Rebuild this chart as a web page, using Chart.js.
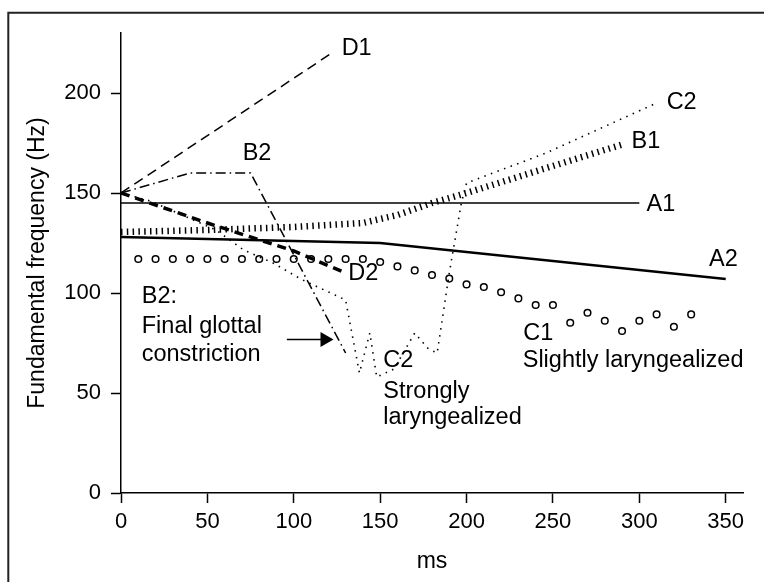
<!DOCTYPE html>
<html>
<head>
<meta charset="utf-8">
<script src="https://cdn.jsdelivr.net/npm/chart.js@4.4.1/dist/chart.umd.min.js"></script>
<style>
html,body{margin:0;padding:0;background:#fff;}
#wrap{width:764px;height:582px;}
</style>
</head>
<body>
<div id="wrap"><canvas id="chart" width="764" height="582"></canvas></div>
<script>
// F0 contours (ms -> Hz)
const a1Ms = [0, 300];
const a1Hz = [145, 145];
const a2Ms = [0, 150, 350];
const a2Hz = [128, 125, 107];
const b1Ms = [0, 50, 100, 140, 160, 180, 200, 250, 291];
const b1Hz = [130.5, 131.5, 133, 135, 139, 145, 150, 163.5, 174.5];
const b2Ms = [0, 40, 75, 130];
const b2Hz = [150, 160, 160, 70];
const c1Ms = [10, 20, 30, 40, 50, 60, 70, 80, 90, 100, 110, 120, 130, 140, 150, 160, 170, 180, 190, 200, 210, 220, 230, 240, 250, 260, 270, 280, 290, 300, 310, 320, 330];
const c1Hz = [117, 117, 117, 117, 117, 117, 117, 117, 117, 117, 117, 117, 117, 117, 115.5, 113.3, 111.3, 109, 107.2, 104.3, 103, 100.4, 97.3, 94, 94, 85.1, 90.1, 86.1, 81, 86.1, 89.3, 83.1, 89.3];
const c2Ms = [0, 17, 55, 71, 88, 104, 130, 138, 144, 148, 158, 170, 178, 183, 190, 197, 200, 246, 310];
const c2Hz = [150, 146, 131.5, 121.5, 115, 107, 96.5, 60, 80, 58, 62, 80, 72, 70, 110, 145, 155, 170, 195];
const d1Ms = [0, 122];
const d1Hz = [150, 220];
const d2Ms = [0, 50, 100, 130];
const d2Hz = [150, 135, 121, 110];
const msTicks = [0, 50, 100, 150, 200, 250, 300, 350];
const hzTicks = [0, 50, 100, 150, 200];

// annotation texts, placed in data units
const notes = [
  {text: 'D1', ms: 127.7, hz: 222},
  {text: 'B2', ms: 70.4, hz: 169.6},
  {text: 'C2', ms: 315.8, hz: 195.4},
  {text: 'B1', ms: 295.5, hz: 175.8},
  {text: 'A1', ms: 304.2, hz: 144},
  {text: 'A2', ms: 340.3, hz: 116.5},
  {text: 'D2', ms: 131.5, hz: 109.5},
  {text: 'B2:', ms: 12, hz: 98.3},
  {text: 'Final glottal', ms: 12, hz: 83.2},
  {text: 'constriction', ms: 12, hz: 69},
  {text: 'C2', ms: 151.8, hz: 66.3},
  {text: 'Strongly', ms: 151.8, hz: 50.9},
  {text: 'laryngealized', ms: 151.8, hz: 37.9},
  {text: 'C1', ms: 232.8, hz: 79.5},
  {text: 'Slightly laryngealized', ms: 232.5, hz: 66}
];
const arrowMs = [96, 123];
const arrowHz = 76.8;

const FONT = '"Liberation Sans", Arial, Helvetica, sans-serif';

function pts(xs, ys) {
  return xs.map((x, i) => ({x: x, y: ys[i]}));
}

function lineSet(label, xs, ys, width, dash) {
  return {
    label: label,
    data: pts(xs, ys),
    borderColor: '#000',
    borderWidth: width,
    borderDash: dash,
    borderCapStyle: 'butt',
    pointRadius: 0,
    fill: false,
    tension: 0
  };
}

const notesPlugin = {
  id: 'notes',
  beforeDraw(chart) {
    const ctx = chart.ctx;
    ctx.save();
    ctx.fillStyle = '#fff';
    ctx.fillRect(0, 0, chart.width, chart.height);
    ctx.restore();
  },
  afterDraw(chart) {
    const ctx = chart.ctx;
    const xs = chart.scales.x, ys = chart.scales.y;
    ctx.save();
    ctx.fillStyle = '#000';
    ctx.font = '23.5px ' + FONT;
    ctx.textBaseline = 'middle';
    ctx.textAlign = 'left';
    notes.forEach(n => {
      ctx.fillText(n.text, xs.getPixelForValue(n.ms), ys.getPixelForValue(n.hz));
    });
    // arrow
    const x0 = xs.getPixelForValue(arrowMs[0]);
    const x1 = xs.getPixelForValue(arrowMs[1]);
    const yA = ys.getPixelForValue(arrowHz);
    ctx.strokeStyle = '#000';
    ctx.lineWidth = 1.5;
    ctx.beginPath();
    ctx.moveTo(x0, yA);
    ctx.lineTo(x1 - 10, yA);
    ctx.stroke();
    ctx.beginPath();
    ctx.moveTo(x1, yA);
    ctx.lineTo(x1 - 13, yA - 7.5);
    ctx.lineTo(x1 - 13, yA + 7.5);
    ctx.closePath();
    ctx.fill();
    // frame
    ctx.strokeStyle = '#222';
    ctx.lineWidth = 2;
    ctx.beginPath();
    ctx.moveTo(8.3, chart.height);
    ctx.lineTo(8.3, 12.7);
    ctx.lineTo(chart.width, 12.7);
    ctx.stroke();
    ctx.restore();
  }
};

new Chart(document.getElementById('chart'), {
  type: 'line',
  data: {
    datasets: [
      lineSet('A1', a1Ms, a1Hz, 1.3, []),
      lineSet('A2', a2Ms, a2Hz, 2.6, []),
      lineSet('B1', b1Ms, b1Hz, 6.5, [1.5, 4.3]),
      lineSet('B2', b2Ms, b2Hz, 1.5, [10, 4, 1.5, 4]),
      lineSet('C2', c2Ms, c2Hz, 1.6, [1.5, 5.5]),
      lineSet('D1', d1Ms, d1Hz, 1.5, [10, 6]),
      lineSet('D2', d2Ms, d2Hz, 3.5, [9, 6]),
      {
        label: 'C1',
        data: pts(c1Ms, c1Hz),
        showLine: false,
        pointRadius: 3.3,
        pointStyle: 'circle',
        pointBorderColor: '#000',
        pointBackgroundColor: '#fff',
        pointBorderWidth: 1.5
      }
    ]
  },
  options: {
    responsive: false,
    devicePixelRatio: 1,
    animation: false,
    layout: {padding: {top: 33, right: 21, left: 0, bottom: 0}},
    plugins: {legend: {display: false}, tooltip: {enabled: false}},
    scales: {
      x: {
        type: 'linear',
        min: 0,
        max: 360,
        afterBuildTicks: s => { s.ticks = msTicks.map(v => ({value: v})); },
        afterFit: s => { s.height = 89; },
        ticks: {color: '#000', font: {family: FONT, size: 22}, padding: 6, maxRotation: 0},
        grid: {drawOnChartArea: false, drawTicks: true, tickLength: 10, tickWidth: 1.5, tickColor: '#000'},
        border: {display: true, color: '#000', width: 1.5},
        title: {display: true, text: 'ms', color: '#000', font: {family: FONT, size: 23}, padding: {top: 0, bottom: 7}}
      },
      y: {
        type: 'linear',
        min: 0,
        max: 230,
        afterBuildTicks: s => { s.ticks = hzTicks.map(v => ({value: v})); },
        afterFit: s => { s.width = 121; },
        ticks: {color: '#000', font: {family: FONT, size: 22}, padding: 10},
        grid: {drawOnChartArea: false, drawTicks: true, tickLength: 10, tickWidth: 1.5, tickColor: '#000'},
        border: {display: true, color: '#000', width: 1.5},
        title: {display: true, text: 'Fundamental frequency (Hz)', color: '#000', font: {family: FONT, size: 23}, padding: {top: 24, bottom: 0}}
      }
    }
  },
  plugins: [notesPlugin]
});
</script>
</body>
</html>
